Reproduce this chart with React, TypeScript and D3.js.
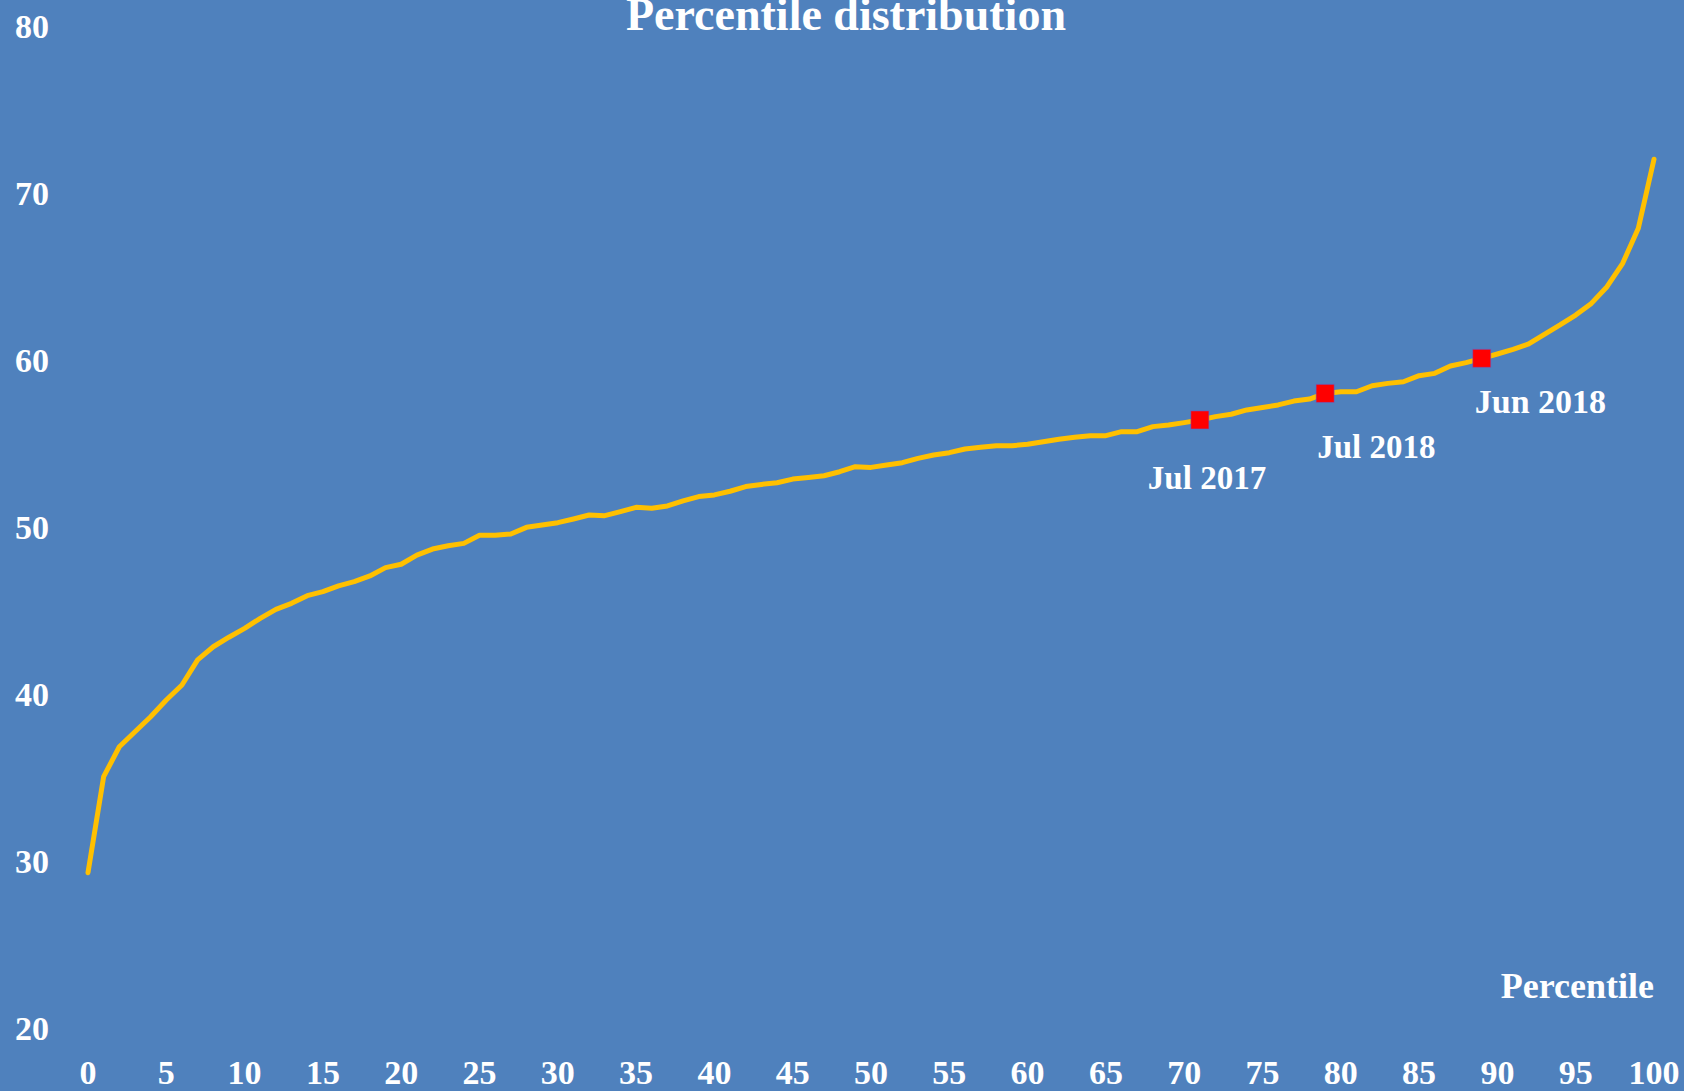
import React from "react";
import * as d3 from "d3";

const percentiles = [
  0, 1, 2, 3, 4, 5, 6, 7, 8, 9, 10, 11, 12, 13, 14, 15, 16, 17, 18, 19, 20,
  21, 22, 23, 24, 25, 26, 27, 28, 29, 30, 31, 32, 33, 34, 35, 36, 37, 38, 39, 40,
  41, 42, 43, 44, 45, 46, 47, 48, 49, 50, 51, 52, 53, 54, 55, 56, 57, 58, 59, 60,
  61, 62, 63, 64, 65, 66, 67, 68, 69, 70, 71, 72, 73, 74, 75, 76, 77, 78, 79, 80,
  81, 82, 83, 84, 85, 86, 87, 88, 89, 90, 91, 92, 93, 94, 95, 96, 97, 98, 99, 100,
];

const values = [
  29.3, 35.05, 36.84, 37.74, 38.64, 39.64, 40.54, 42.04, 42.83, 43.4, 43.93,
  44.53, 45.07, 45.43, 45.89, 46.13, 46.47, 46.73, 47.07, 47.57, 47.77,
  48.32, 48.68, 48.88, 49.02, 49.5, 49.5, 49.58, 49.98, 50.12, 50.26,
  50.48, 50.72, 50.68, 50.92, 51.18, 51.12, 51.26, 51.56, 51.82, 51.92,
  52.14, 52.42, 52.55, 52.65, 52.87, 52.97, 53.07, 53.31, 53.61, 53.57,
  53.71, 53.85, 54.11, 54.31, 54.45, 54.67, 54.77, 54.87, 54.87, 54.95,
  55.11, 55.25, 55.37, 55.47, 55.47, 55.71, 55.71, 56.01, 56.11, 56.25,
  56.41, 56.61, 56.75, 57.01, 57.15, 57.31, 57.54, 57.66, 58.0, 58.1,
  58.1, 58.46, 58.6, 58.7, 59.06, 59.2, 59.64, 59.84, 60.1, 60.36,
  60.64, 60.96, 61.54, 62.1, 62.69, 63.39, 64.39, 65.79, 67.89, 72.02,
];

const markerLabels = ["Jul 2017", "Jul 2018", "Jun 2018"];
const markerPercentiles = [71, 79, 89];
const markerValues = [56.41, 58.0, 60.1];

const xTicks = [0, 5, 10, 15, 20, 25, 30, 35, 40, 45, 50, 55, 60, 65, 70, 75, 80, 85, 90, 95, 100];
const yTicks = [20, 30, 40, 50, 60, 70, 80];

const title = "Percentile distribution";
const xAxisTitle = "Percentile";

// label placement offsets relative to marker (layout, not data)
const labelOffsets = [
  { dx: -52, dy: 69 },
  { dx: -8, dy: 65 },
  { dx: -7, dy: 55 },
];

const W = 1684;
const H = 1091;
const BG = "#4F81BD";
const FONT = "'Liberation Serif', 'Times New Roman', serif";

export default function App() {
  const x = d3.scaleLinear().domain([0, 100]).range([88, 1654]);
  const y = d3.scaleLinear().domain([20, 80]).range([1028, 26]);

  const line = d3
    .line<number>()
    .x((_, i) => x(percentiles[i]))
    .y((d) => y(d));

  const path = line(values) || "";
  const ms = 18;

  return (
    <>
      <style>{`body{margin:0;background:${BG};} #root{line-height:0}`}</style>
      <svg width={W} height={H} style={{ display: "block" }}>
        <rect x={0} y={0} width={W} height={H} fill={BG} />
        <text
          x={846}
          y={30}
          textAnchor="middle"
          fill="#fff"
          fontFamily={FONT}
          fontWeight="bold"
          fontSize={46}
        >
          {title}
        </text>
        {yTicks.map((t) => (
          <text
            key={"y" + t}
            x={49}
            y={y(t) + 12}
            textAnchor="end"
            fill="#fff"
            fontFamily={FONT}
            fontWeight="bold"
            fontSize={34}
          >
            {t}
          </text>
        ))}
        {xTicks.map((t) => (
          <text
            key={"x" + t}
            x={x(t)}
            y={1084}
            textAnchor="middle"
            fill="#fff"
            fontFamily={FONT}
            fontWeight="bold"
            fontSize={34}
          >
            {t}
          </text>
        ))}
        <text
          x={1654}
          y={998}
          textAnchor="end"
          fill="#fff"
          fontFamily={FONT}
          fontWeight="bold"
          fontSize={36}
        >
          {xAxisTitle}
        </text>
        <path d={path} fill="none" stroke="#FFC000" strokeWidth={5} strokeLinejoin="round" strokeLinecap="round" />
        {markerLabels.map((lab, i) => {
          const cx = x(markerPercentiles[i]);
          const cy = y(markerValues[i]);
          return (
            <g key={lab}>
              <rect
                x={cx - ms / 2}
                y={cy - ms / 2}
                width={ms}
                height={ms}
                fill="#FF0000"
                stroke="#6a5acd"
                strokeOpacity={0.5}
                strokeWidth={1}
              />
              <text
                x={cx + labelOffsets[i].dx}
                y={cy + labelOffsets[i].dy}
                fill="#fff"
                fontFamily={FONT}
                fontWeight="bold"
                fontSize={i === 2 ? 34 : 33}
              >
                {lab}
              </text>
            </g>
          );
        })}
      </svg>
    </>
  );
}
